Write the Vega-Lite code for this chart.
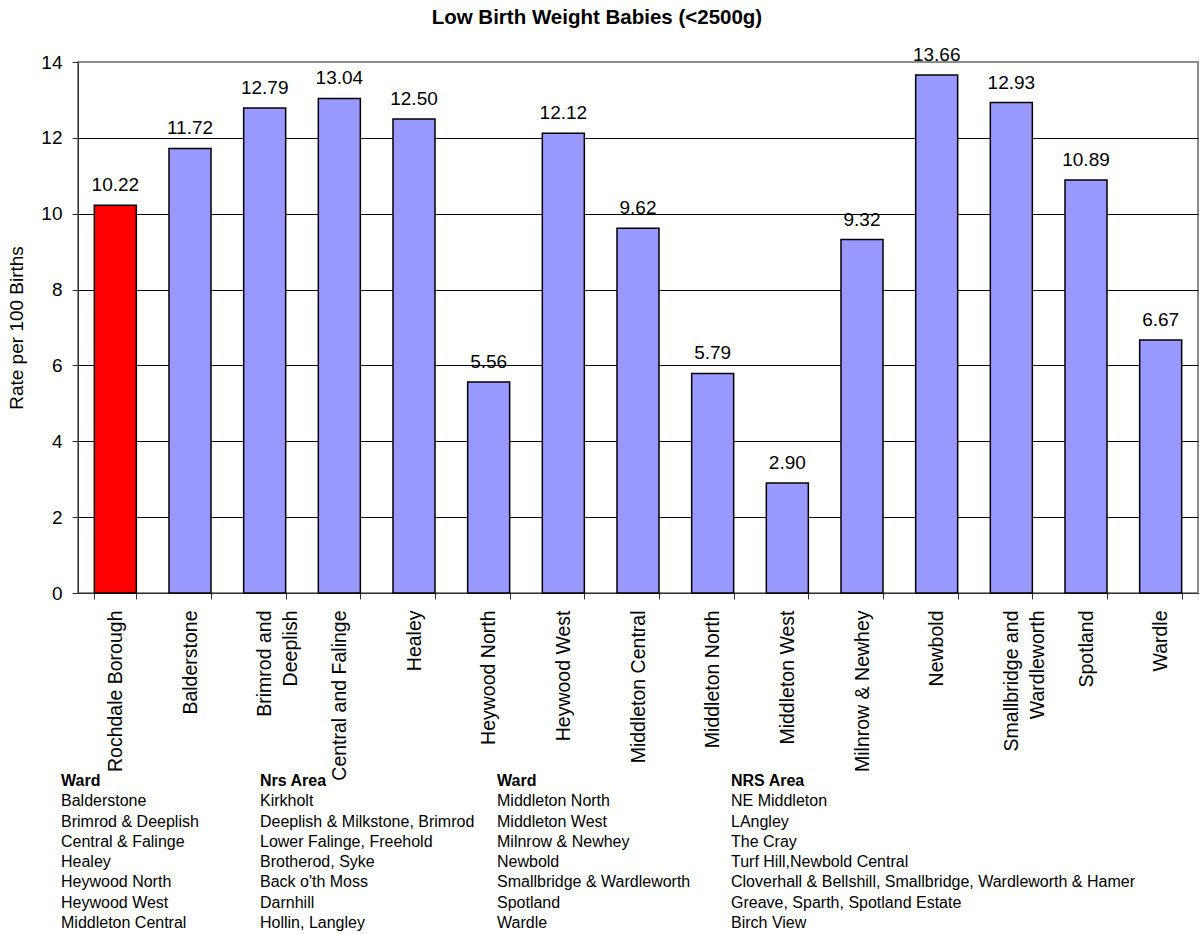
{
  "$schema": "https://vega.github.io/schema/vega-lite/v6.json",
  "background": "white",
  "padding": {"left": 6, "top": 8, "right": 5, "bottom": 0},
  "config": {"font": "Liberation Sans", "view": {"stroke": null}},
  "title": {"text": "Low Birth Weight Babies (<2500g)", "fontSize": 20.5, "fontWeight": "bold", "color": "black", "anchor": "middle", "offset": 16, "dx": -6},
  "datasets": {
    "bars": [
      {"area": "Rochdale Borough", "rate": 10.22, "kind": "Borough"},
      {"area": "Balderstone", "rate": 11.72, "kind": "Ward"},
      {"area": "Brimrod and Deeplish", "rate": 12.79, "kind": "Ward"},
      {"area": "Central and Falinge", "rate": 13.04, "kind": "Ward"},
      {"area": "Healey", "rate": 12.50, "kind": "Ward"},
      {"area": "Heywood North", "rate": 5.56, "kind": "Ward"},
      {"area": "Heywood West", "rate": 12.12, "kind": "Ward"},
      {"area": "Middleton Central", "rate": 9.62, "kind": "Ward"},
      {"area": "Middleton North", "rate": 5.79, "kind": "Ward"},
      {"area": "Middleton West", "rate": 2.90, "kind": "Ward"},
      {"area": "Milnrow & Newhey", "rate": 9.32, "kind": "Ward"},
      {"area": "Newbold", "rate": 13.66, "kind": "Ward"},
      {"area": "Smallbridge and Wardleworth", "rate": 12.93, "kind": "Ward"},
      {"area": "Spotland", "rate": 10.89, "kind": "Ward"},
      {"area": "Wardle", "rate": 6.67, "kind": "Ward"}
    ],
    "table": [
      {"col": 0, "row": 0, "text": "Ward"},
      {"col": 0, "row": 1, "text": "Balderstone"},
      {"col": 0, "row": 2, "text": "Brimrod & Deeplish"},
      {"col": 0, "row": 3, "text": "Central & Falinge"},
      {"col": 0, "row": 4, "text": "Healey"},
      {"col": 0, "row": 5, "text": "Heywood North"},
      {"col": 0, "row": 6, "text": "Heywood West"},
      {"col": 0, "row": 7, "text": "Middleton Central"},
      {"col": 1, "row": 0, "text": "Nrs Area"},
      {"col": 1, "row": 1, "text": "Kirkholt"},
      {"col": 1, "row": 2, "text": "Deeplish & Milkstone, Brimrod"},
      {"col": 1, "row": 3, "text": "Lower Falinge, Freehold"},
      {"col": 1, "row": 4, "text": "Brotherod, Syke"},
      {"col": 1, "row": 5, "text": "Back o'th Moss"},
      {"col": 1, "row": 6, "text": "Darnhill"},
      {"col": 1, "row": 7, "text": "Hollin, Langley"},
      {"col": 2, "row": 0, "text": "Ward"},
      {"col": 2, "row": 1, "text": "Middleton North"},
      {"col": 2, "row": 2, "text": "Middleton West"},
      {"col": 2, "row": 3, "text": "Milnrow & Newhey"},
      {"col": 2, "row": 4, "text": "Newbold"},
      {"col": 2, "row": 5, "text": "Smallbridge & Wardleworth"},
      {"col": 2, "row": 6, "text": "Spotland"},
      {"col": 2, "row": 7, "text": "Wardle"},
      {"col": 3, "row": 0, "text": "NRS Area"},
      {"col": 3, "row": 1, "text": "NE Middleton"},
      {"col": 3, "row": 2, "text": "LAngley"},
      {"col": 3, "row": 3, "text": "The Cray"},
      {"col": 3, "row": 4, "text": "Turf Hill,Newbold Central"},
      {"col": 3, "row": 5, "text": "Cloverhall & Bellshill, Smallbridge, Wardleworth & Hamer"},
      {"col": 3, "row": 6, "text": "Greave, Sparth, Spotland Estate"},
      {"col": 3, "row": 7, "text": "Birch View"}
    ]
  },
  "bounds": "flush",
  "spacing": 178,
  "vconcat": [
    {
      "width": 1120,
      "height": 531,
      "view": {"stroke": "#8c8c8c", "strokeWidth": 2},
      "data": {"name": "bars"},
      "encoding": {
        "x": {
          "field": "area", "type": "nominal", "sort": null,
          "scale": {"paddingInner": 0.4375, "paddingOuter": 0.21875},
          "axis": {
            "title": null, "labelAngle": -90, "labelFontSize": 19.5, "labelColor": "black",
            "labelPadding": 11, "labelLimit": 400, "labelLineHeight": 26,
            "tickSize": 6, "tickColor": "#333", "domainColor": "#333", "tickBand": "extent",
            "labelExpr": "datum.label == 'Brimrod and Deeplish' ? ['Brimrod and', 'Deeplish'] : datum.label == 'Smallbridge and Wardleworth' ? ['Smallbridge and', 'Wardleworth'] : datum.label"
          }
        },
        "y": {
          "field": "rate", "type": "quantitative",
          "scale": {"domain": [0, 14], "nice": false},
          "axis": {
            "title": "Rate per 100 Births", "titleFontSize": 19, "titleFontWeight": "normal", "titleColor": "black",
            "titlePadding": 14,
            "values": [0, 2, 4, 6, 8, 10, 12, 14],
            "labelFontSize": 19, "labelColor": "black", "labelPadding": 10,
            "tickSize": 6, "tickColor": "#333", "domainColor": "#333",
            "grid": true,
            "gridColor": {"condition": {"test": "datum.value === 14", "value": "#8c8c8c"}, "value": "black"},
            "gridWidth": 1
          }
        }
      },
      "layer": [
        {
          "mark": {"type": "bar", "stroke": "black", "strokeWidth": 1.5},
          "encoding": {
            "color": {"field": "kind", "type": "nominal", "scale": {"domain": ["Borough", "Ward"], "range": ["#FF0000", "#9999FF"]}, "legend": null}
          }
        },
        {
          "mark": {"type": "text", "baseline": "alphabetic", "dy": -14, "fontSize": 19, "color": "black"},
          "encoding": {"text": {"field": "rate", "type": "quantitative", "format": ".2f"}}
        }
      ]
    },
    {
      "bounds": "flush",
      "spacing": 0,
      "hconcat": [
        {
          "width": 199, "height": 162, "view": {"stroke": null},
          "data": {"name": "table"},
          "transform": [{"filter": "datum.col == 0"}],
          "encoding": {
            "y": {"field": "row", "type": "ordinal", "axis": null, "scale": {"paddingInner": 0, "paddingOuter": 0}},
            "x": {"datum": 0, "type": "quantitative", "axis": null, "scale": {"domain": [0, 1]}},
            "text": {"field": "text"}
          },
          "layer": [
            {"transform": [{"filter": "datum.row == 0"}], "mark": {"type": "text", "align": "left", "baseline": "middle", "dx": -17, "fontSize": 16, "fontWeight": "bold", "color": "black"}},
            {"transform": [{"filter": "datum.row > 0"}], "mark": {"type": "text", "align": "left", "baseline": "middle", "dx": -17, "fontSize": 16, "color": "black"}}
          ]
        },
        {
          "width": 237, "height": 162, "view": {"stroke": null},
          "data": {"name": "table"},
          "transform": [{"filter": "datum.col == 1"}],
          "encoding": {
            "y": {"field": "row", "type": "ordinal", "axis": null, "scale": {"paddingInner": 0, "paddingOuter": 0}},
            "x": {"datum": 0, "type": "quantitative", "axis": null, "scale": {"domain": [0, 1]}},
            "text": {"field": "text"}
          },
          "layer": [
            {"transform": [{"filter": "datum.row == 0"}], "mark": {"type": "text", "align": "left", "baseline": "middle", "dx": -17, "fontSize": 16, "fontWeight": "bold", "color": "black"}},
            {"transform": [{"filter": "datum.row > 0"}], "mark": {"type": "text", "align": "left", "baseline": "middle", "dx": -17, "fontSize": 16, "color": "black"}}
          ]
        },
        {
          "width": 234, "height": 162, "view": {"stroke": null},
          "data": {"name": "table"},
          "transform": [{"filter": "datum.col == 2"}],
          "encoding": {
            "y": {"field": "row", "type": "ordinal", "axis": null, "scale": {"paddingInner": 0, "paddingOuter": 0}},
            "x": {"datum": 0, "type": "quantitative", "axis": null, "scale": {"domain": [0, 1]}},
            "text": {"field": "text"}
          },
          "layer": [
            {"transform": [{"filter": "datum.row == 0"}], "mark": {"type": "text", "align": "left", "baseline": "middle", "dx": -17, "fontSize": 16, "fontWeight": "bold", "color": "black"}},
            {"transform": [{"filter": "datum.row > 0"}], "mark": {"type": "text", "align": "left", "baseline": "middle", "dx": -17, "fontSize": 16, "color": "black"}}
          ]
        },
        {
          "width": 420, "height": 162, "view": {"stroke": null},
          "data": {"name": "table"},
          "transform": [{"filter": "datum.col == 3"}],
          "encoding": {
            "y": {"field": "row", "type": "ordinal", "axis": null, "scale": {"paddingInner": 0, "paddingOuter": 0}},
            "x": {"datum": 0, "type": "quantitative", "axis": null, "scale": {"domain": [0, 1]}},
            "text": {"field": "text"}
          },
          "layer": [
            {"transform": [{"filter": "datum.row == 0"}], "mark": {"type": "text", "align": "left", "baseline": "middle", "dx": -17, "fontSize": 16, "fontWeight": "bold", "color": "black"}},
            {"transform": [{"filter": "datum.row > 0"}], "mark": {"type": "text", "align": "left", "baseline": "middle", "dx": -17, "fontSize": 16, "color": "black"}}
          ]
        }
      ]
    }
  ]
}
